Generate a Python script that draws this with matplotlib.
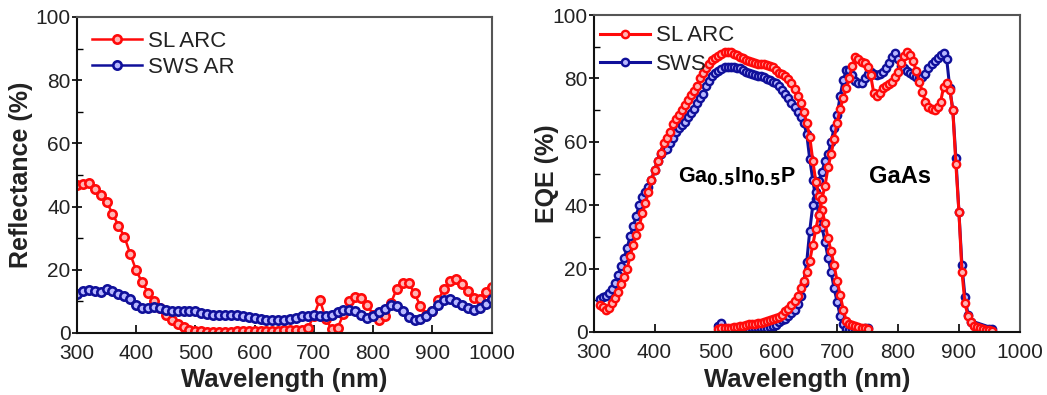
import numpy as np
import matplotlib
matplotlib.use("Agg")
import matplotlib.pyplot as plt
from matplotlib.ticker import MultipleLocator

plt.rcParams["font.family"] = ["Liberation Sans", "DejaVu Sans"]

RED = "#ff0a0a"
RED_FACE = "#ffb4b4"
BLUE = "#10109a"
BLUE_FACE = "#b8b8ff"
TXT = "#222222"

# ── Reflectance (left) ──────────────────────────────────────────────────────
refl_wl = np.arange(300, 1001, 10)
refl_sl_arc = [
    46.8, 47.2, 47.4, 45.6, 43.8, 41.5, 37.8, 34.0, 30.5, 25.0,
    19.8, 16.0, 12.8, 10.2, 7.8, 5.6, 4.0, 2.8, 1.8, 1.0,
    0.6, 0.5, 0.4, 0.4, 0.4, 0.4, 0.4, 0.5, 0.5, 0.5,
    0.5, 0.6, 0.6, 0.7, 0.7, 0.8, 0.9, 1.0, 1.0, 1.5,
    5.5, 10.5, 4.5, 1.2, 1.5, 6.0, 10.0, 11.5, 11.0, 9.0,
    5.8, 4.2, 5.5, 9.5, 14.0, 15.7, 15.8, 12.5, 8.5, 5.8,
    7.0, 10.5, 14.0, 16.5, 17.0, 15.5, 13.2, 11.2, 10.8, 13.0,
    14.5,
]
refl_sws_ar = [
    12.4, 13.2, 13.6, 13.2, 13.0, 14.0, 13.2, 12.2, 11.7, 10.6,
    9.0, 8.0, 7.9, 8.3, 7.9, 7.4, 7.1, 7.0, 7.0, 6.9,
    6.8, 6.4, 6.0, 5.8, 5.7, 5.7, 5.7, 5.6, 5.4, 5.1,
    4.7, 4.4, 4.2, 4.0, 4.0, 4.2, 4.5, 4.9, 5.3, 5.5,
    5.6, 5.3, 5.3, 5.8, 6.7, 7.2, 7.3, 6.8, 5.8, 4.7,
    5.4, 6.6, 7.6, 8.7, 8.4, 6.8, 5.1, 4.2, 4.3, 5.4,
    7.0, 9.0, 10.5, 10.9, 9.9, 8.7, 7.8, 7.2, 7.9, 9.3,
    10.8,
]

# ── EQE (right) ─────────────────────────────────────────────────────────────
top_wl = np.arange(310, 751, 5)
top_sl_arc = [
    8.5, 7.8, 7.0, 7.5, 9.0, 10.7, 12.5, 15.0, 17.5, 20.0,
    24.0, 27.5, 30.5, 33.5, 37.5, 40.6, 44.3, 47.8, 51.0, 53.8,
    56.4, 59.5, 61.2, 63.0, 65.5, 67.3, 68.5, 70.0, 71.6, 73.3,
    74.8, 76.0, 77.5, 80.0, 81.7, 83.2, 84.5, 85.7, 86.5, 87.2,
    87.8, 88.3, 88.4, 88.2, 87.8, 87.4, 86.9, 86.4, 85.9, 85.4,
    85.1, 84.9, 84.7, 84.5, 84.4, 84.3, 84.0, 83.5, 82.6, 81.8,
    81.3, 80.8, 79.8, 78.5, 76.6, 74.5, 72.3, 69.5, 66.0, 61.5,
    54.0, 47.4, 43.0, 38.5, 34.5, 29.5, 25.5, 21.0, 16.0, 11.7,
    7.0, 3.5, 2.6, 2.1, 1.8, 1.6, 1.4, 1.2, 1.0,
]
top_sws = [
    10.5, 11.0, 11.3, 12.2, 13.5, 15.5, 18.0, 20.7, 23.3, 26.5,
    30.2, 33.3, 36.6, 40.2, 42.6, 44.3, 45.8, 48.0, 51.2, 54.0,
    56.3, 57.3, 57.8, 59.5, 61.3, 63.0, 64.3, 65.3, 66.4, 67.7,
    69.0, 70.5, 72.1, 73.8, 75.0, 77.5, 79.3, 80.8, 81.7, 82.4,
    82.9, 83.5, 83.7, 83.7, 83.6, 83.4, 83.2, 82.6, 82.1, 81.7,
    81.4, 81.1, 80.9, 80.7, 80.3, 79.9, 79.4, 79.0, 78.4, 77.5,
    76.4, 75.2, 73.7, 72.3, 71.0, 69.5, 67.8, 66.0, 62.5, 54.5,
    48.0, 42.0, 37.0, 33.2, 28.5, 23.5, 19.0, 13.8, 9.5, 5.0,
    2.5, 1.0, 0.5, 0.5, 0.6, 0.8, 1.0, 1.4, 1.2,
]

bot_wl = np.arange(505, 956, 5)
bot_sl_arc = [
    1.0, 1.2, 1.3, 1.3, 1.4, 1.5, 1.7, 1.9, 2.0, 2.2,
    2.4, 2.5, 2.6, 2.7, 2.9, 3.2, 3.6, 3.9, 4.2, 4.5,
    4.8, 5.5, 6.5, 7.3, 8.5, 9.8, 11.5, 13.8, 16.0, 19.0,
    22.5, 27.5, 32.5, 37.0, 42.0, 46.0, 52.0, 56.0, 61.0, 66.0,
    70.5, 73.7, 76.9, 80.0, 84.0, 86.7, 86.0, 85.2, 84.8, 83.7,
    81.0, 75.5, 74.3, 75.3, 76.9, 77.5, 78.2, 79.0, 80.3, 82.0,
    85.0, 87.0, 88.4, 87.5, 85.5, 82.2, 79.0, 75.8, 72.7, 71.0,
    70.4, 70.0, 71.0, 72.7, 77.4, 78.4, 76.5, 70.0, 53.0, 38.0,
    19.0, 9.0, 5.0, 3.0, 2.0, 1.6, 1.3, 1.0, 0.7, 0.5,
    0.4,
]
bot_sws = [
    2.0, 2.7, 1.2, 0.6, 0.6, 0.6, 0.6, 0.6, 0.8, 0.9,
    1.0, 1.2, 1.2, 1.2, 1.2, 1.2, 1.3, 1.6, 2.0, 2.3,
    3.0, 3.7, 4.2, 5.0, 6.0, 7.0, 8.8, 11.5, 15.5, 22.0,
    32.0, 40.0, 44.3, 47.5, 50.5, 54.0, 56.0, 60.0, 64.2, 68.5,
    74.5, 79.5, 82.5, 82.8, 81.0, 79.2, 78.5, 78.4, 80.2, 81.5,
    82.1, 81.5, 81.0, 81.4, 82.0, 83.2, 84.8, 86.8, 87.9, 86.0,
    84.0, 83.2, 82.2, 81.6, 81.0, 80.3, 80.0, 80.3, 81.5, 83.2,
    84.5, 85.5, 86.5, 87.5, 87.9, 86.0, 77.0, 70.0, 55.0, 38.0,
    21.0, 11.0, 5.5, 3.2, 2.2, 1.8, 1.5, 1.3, 1.1, 1.0,
    0.8,
]

fig = plt.figure(figsize=(10.47, 3.95), dpi=100)
ax1 = fig.add_axes([0.0735, 0.157, 0.396, 0.80])
ax2 = fig.add_axes([0.567, 0.1595, 0.407, 0.8025])

red_kw = dict(color=RED, lw=1.8, marker="o", ms=6.0, mfc=RED_FACE, mec=RED, mew=1.9)
blue_kw = dict(color=BLUE, lw=1.8, marker="o", ms=6.0, mfc=BLUE_FACE, mec=BLUE, mew=1.9)

# left: reflectance
ax1.plot(refl_wl, refl_sl_arc, label="SL ARC", **red_kw)
ax1.plot(refl_wl, refl_sws_ar, label="SWS AR", **blue_kw)
ax1.set_ylabel("Reflectance (%)", fontsize=18, fontweight="bold", color=TXT)
ax1.yaxis.set_label_coords(-0.106, 0.5)
ax1.xaxis.set_label_coords(0.5, -0.11)

# right: EQE
red_kw2 = dict(red_kw, ms=5.3, lw=2.2, mew=1.7)
blue_kw2 = dict(blue_kw, ms=5.3, lw=2.2, mew=1.7)
ax2.plot(top_wl, top_sws, label="SWS", **blue_kw2)
ax2.plot(bot_wl, bot_sws, **blue_kw2)
ax2.plot(top_wl, top_sl_arc, label="SL ARC", **red_kw2)
ax2.plot(bot_wl, bot_sl_arc, **red_kw2)
ax2.set_ylabel("EQE (%)", fontsize=18, fontweight="bold", color=TXT)
ax2.yaxis.set_label_coords(-0.082, 0.5)
ax2.xaxis.set_label_coords(0.5, -0.114)
ax2.text(535, 49, r"Ga$_{\mathbf{0.5}}$In$_{\mathbf{0.5}}$P", fontsize=15.5,
         fontweight="bold", ha="center", va="center", color="black")
ax2.text(803, 49, "GaAs", fontsize=17, fontweight="bold",
         ha="center", va="center", color="black")

for ax in (ax1, ax2):
    ax.set_xlim(300, 1000)
    ax.set_ylim(0, 100)
    ax.xaxis.set_major_locator(MultipleLocator(100))
    ax.yaxis.set_major_locator(MultipleLocator(20))
    ax.yaxis.set_minor_locator(MultipleLocator(10))
    ax.tick_params(axis="x", direction="in", length=6, width=1.2, labelsize=15,
                   labelcolor=TXT, pad=8)
    ax.tick_params(axis="y", which="major", direction="inout", length=7, width=1.2,
                   labelsize=15, labelcolor=TXT, pad=1)
    ax.tick_params(axis="y", which="minor", direction="in", length=4, width=1.0)
    ax.set_xlabel("Wavelength (nm)", fontsize=18.5, fontweight="bold", color=TXT)
    for s in ("left", "bottom"):
        ax.spines[s].set_color("#111111")
        ax.spines[s].set_linewidth(1.5)
    for s in ("top", "right"):
        ax.spines[s].set_color("#555555")
        ax.spines[s].set_linewidth(1.5)

leg1 = ax1.legend(loc="upper left", frameon=False, fontsize=16, handlelength=2.25,
                  borderaxespad=0.0, labelspacing=0.25, handletextpad=0.27,
                  bbox_to_anchor=(0.0145, 0.985))
h, l = ax2.get_legend_handles_labels()
leg2 = ax2.legend([h[1], h[0]], [l[1], l[0]], loc="upper left", frameon=False,
                  fontsize=16, handlelength=2.25, borderaxespad=0.0, labelspacing=0.35,
                  handletextpad=0.27, bbox_to_anchor=(-0.007, 0.995))
for leg in (leg1, leg2):
    for t in leg.get_texts():
        t.set_color(TXT)

fig.savefig("out.png", dpi=100)
